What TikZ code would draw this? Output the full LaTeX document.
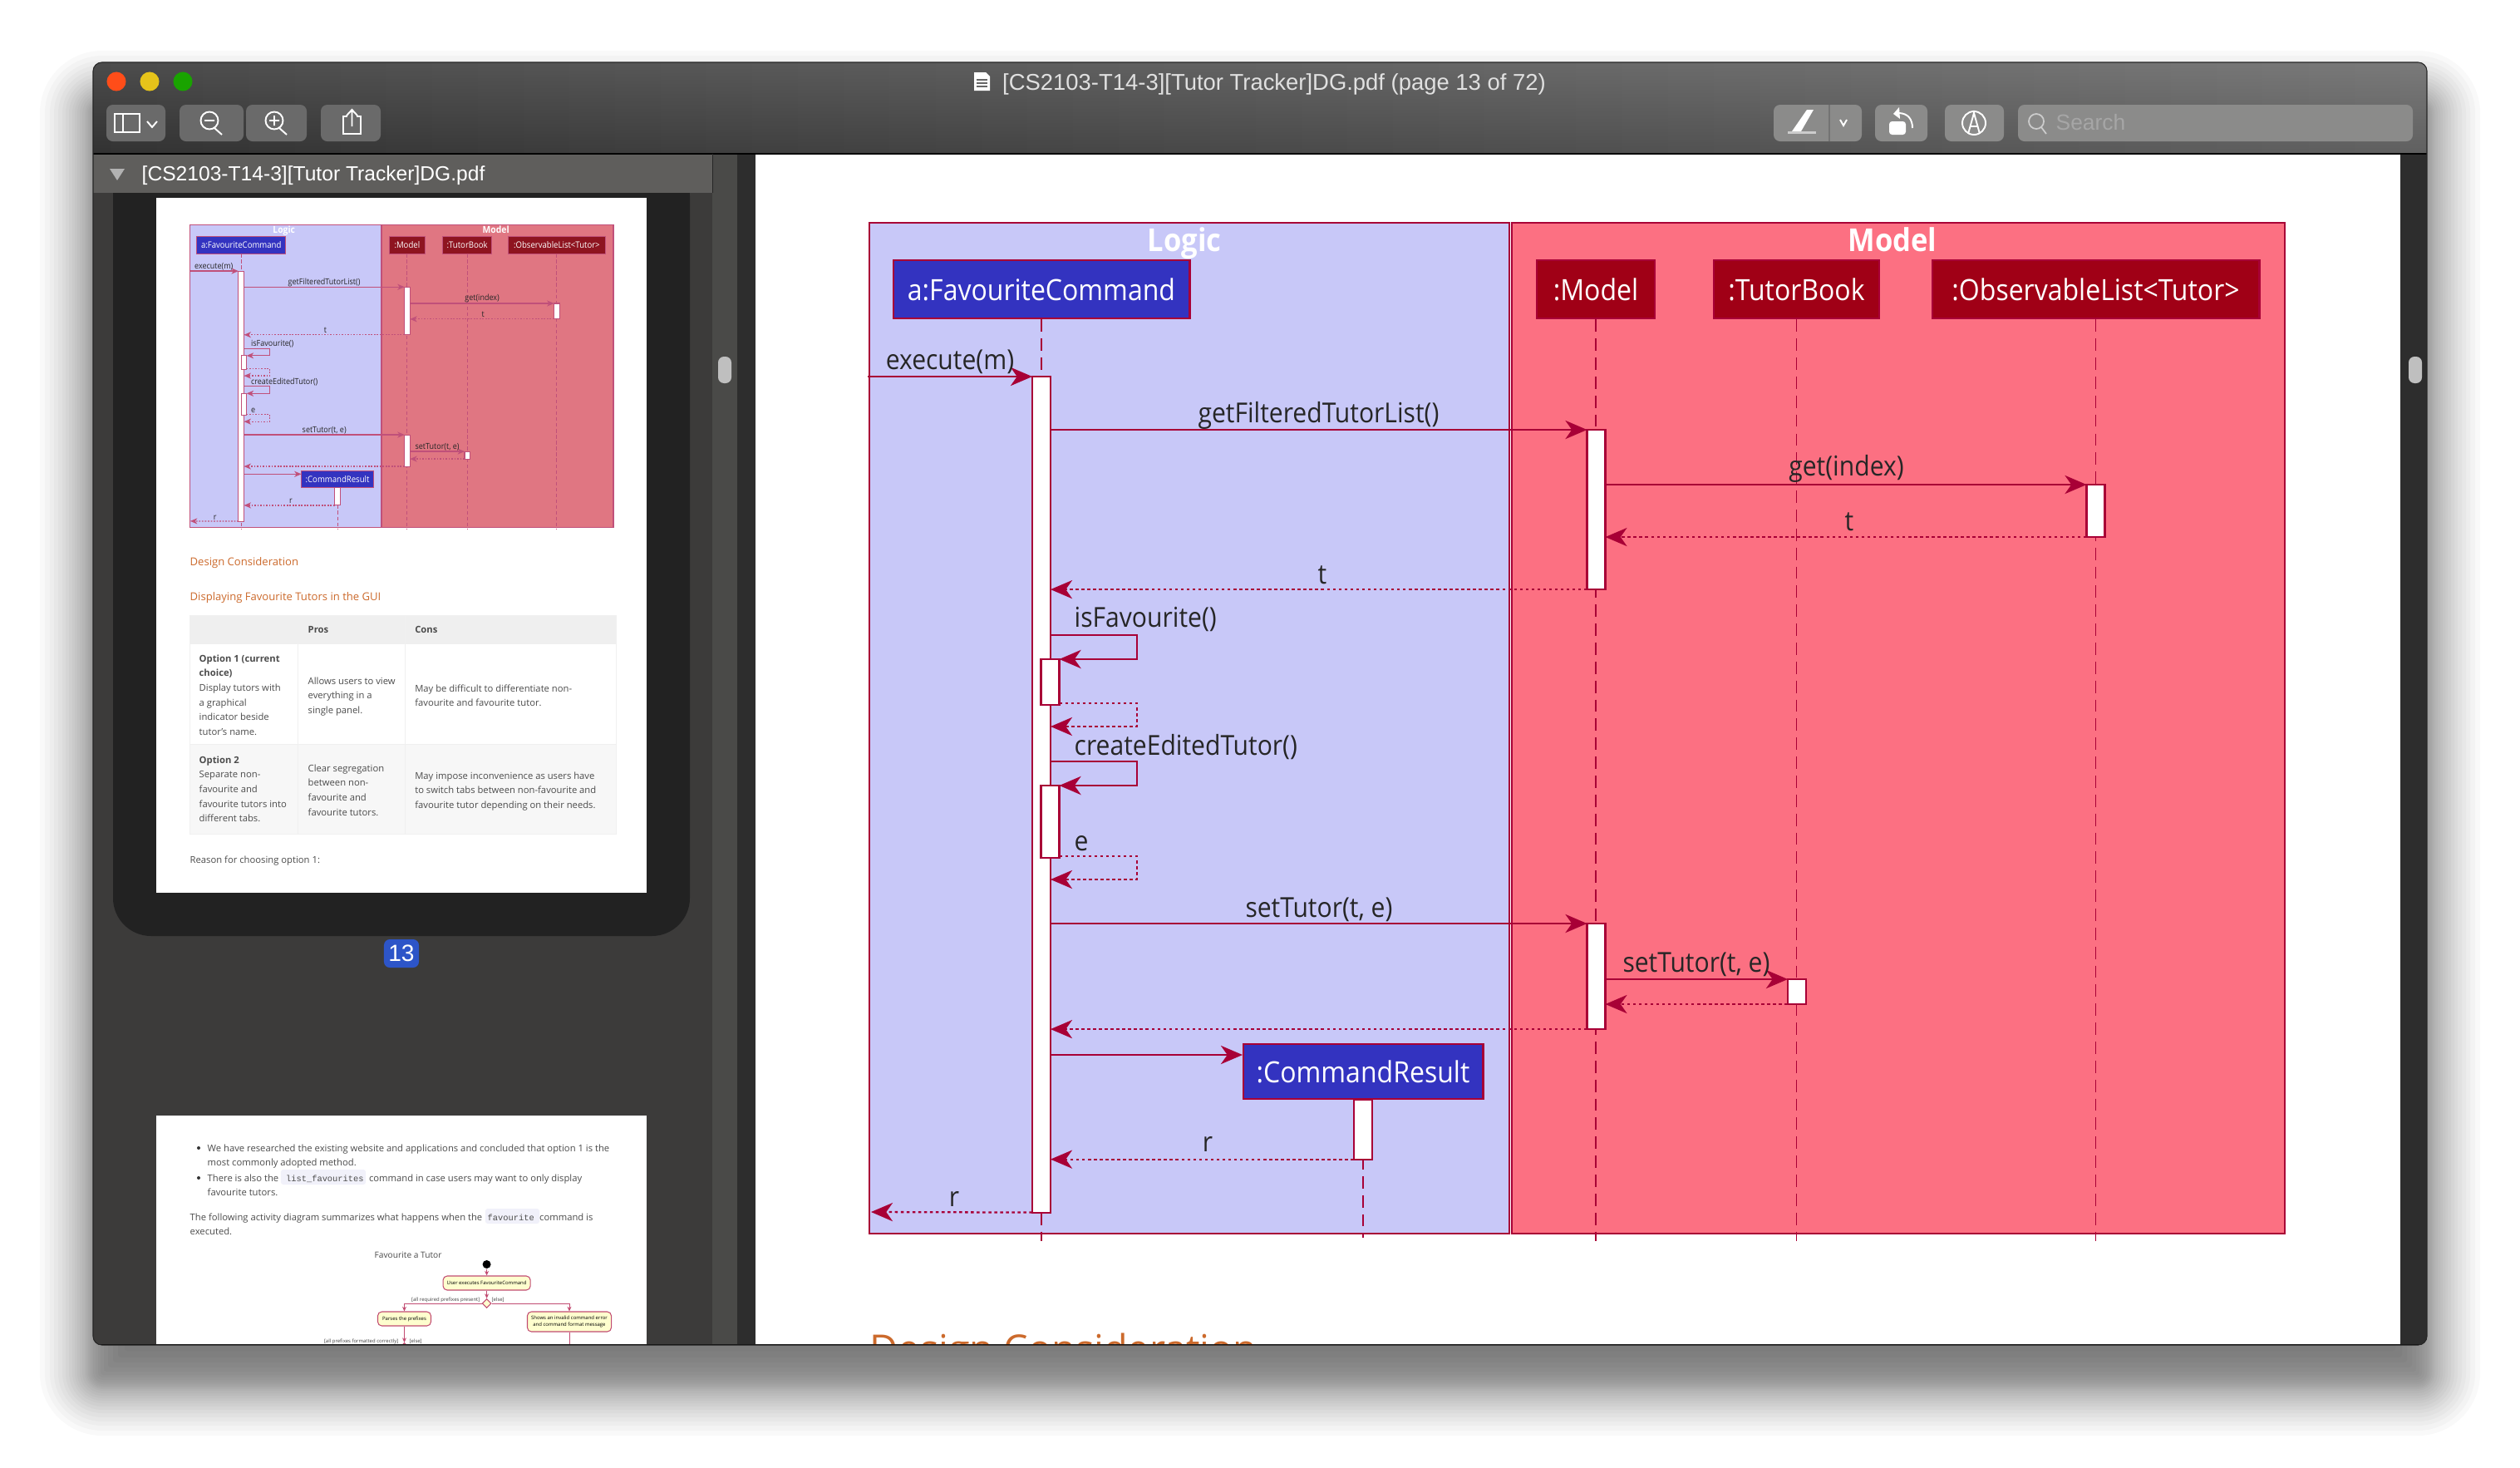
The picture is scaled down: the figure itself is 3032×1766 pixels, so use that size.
\documentclass[tikz,border=0pt]{standalone}
\usepackage{fontspec}
\setmainfont{Open Sans}
\setmonofont{Liberation Mono}
\newfontfamily\uifont{Liberation Sans}
\newfontfamily\seqfont[FakeStretch=.91]{Open Sans}
\usepackage{xcolor}
\usepackage{tikz}
\usetikzlibrary{arrows.meta,positioning,shapes.geometric}
\definecolor{seqline}{HTML}{A80036}
\definecolor{logicbg}{HTML}{C8C8F8}
\definecolor{modelbg}{HTML}{FC7082}
\definecolor{logicactor}{HTML}{3333C0}
\definecolor{modelactor}{HTML}{A00016}
\definecolor{thumbmodel}{HTML}{E07682}
\definecolor{thumbmodelactor}{HTML}{8E1420}
\definecolor{thumbline}{HTML}{C0507A}
\definecolor{uibtn}{HTML}{6A6A6A}
\definecolor{uibtnlight}{HTML}{8B8B8A}
\definecolor{sidebg}{HTML}{3C3B3A}
\definecolor{headbg}{HTML}{5F5E5C}
\definecolor{stripbg}{HTML}{4A4A48}
\definecolor{darkbg}{HTML}{2D2D2D}
\definecolor{selbg}{HTML}{222222}
\definecolor{badge}{HTML}{2D55C8}
\definecolor{docorange}{HTML}{CC6A2C}
\definecolor{thead}{HTML}{EFEFEF}
\definecolor{tstripe}{HTML}{F7F7F7}
\definecolor{chipbg}{HTML}{F1F1FA}
\definecolor{actfill}{HTML}{FEFECE}
\tikzset{
  logicpanel/.style={draw=seqline, line width=.6pt, fill=logicbg, inner sep=0pt},
  modelpanel/.style={logicpanel, fill=modelbg},
  paneltitle/.style={font=\seqfont\fontsize{10.8}{13}\selectfont\bfseries, text=white, inner sep=0pt, text height=8pt, text depth=0pt},
  actor/.style={draw=seqline, line width=.8pt, fill=logicactor, text=white, inner sep=0pt, font=\seqfont\fontsize{10}{12}\selectfont},
  modelbox/.style={actor, fill=modelactor},
  actbar/.style={draw=seqline, line width=.6pt, fill=white, minimum width=.22cm, inner sep=0pt, outer sep=0pt, anchor=north},
  lifeline/.style={draw=seqline, line width=.55pt, dash pattern=on 4.2pt off 2.3pt},
  call/.style={draw=seqline, line width=.8pt, -{Stealth[length=7.4pt,width=6.3pt,inset=2.2pt]}},
  ret/.style={call, line width=.65pt, dash pattern=on 1pt off 1pt},
  msglbl/.style={font=\seqfont\fontsize{9.4}{11}\selectfont, text=black!85, inner sep=0pt, text height=8.7pt, text depth=2pt},
  thumbview/.style={
    modelpanel/.style={logicpanel, fill=thumbmodel},
    logicpanel/.style={draw=thumbline, line width=.35pt, fill=logicbg, inner sep=0pt},
    modelbox/.style={actor, fill=thumbmodelactor},
    actor/.style={draw=thumbline, line width=.3pt, fill=logicactor, text=white, inner sep=0pt, font=\seqfont\fontsize{10}{12}\selectfont},
    actbar/.style={draw=thumbline, line width=.3pt, fill=white, minimum width=.22cm, inner sep=0pt, outer sep=0pt, anchor=north},
    lifeline/.style={draw=thumbline, line width=.3pt, dash pattern=on 1.2pt off .8pt},
    call/.style={draw=thumbline, line width=.35pt, -{Stealth[length=2.4pt,width=2pt,inset=.7pt]}},
    ret/.style={call, dash pattern=on .5pt off .5pt},
  },
  btn/.style={fill=uibtn, rounded corners=2.2pt},
  btnl/.style={fill=uibtnlight, rounded corners=2.2pt},
  icon/.style={draw=white, line width=.55pt},
  thumbtxt/.style={font=\fontsize{3.2}{5}\selectfont, text=black!70, align=left, anchor=north west, inner sep=0pt},
  thumbhead/.style={font=\fontsize{3.72}{5}\selectfont, text=docorange, anchor=west, inner sep=0pt},
  chip/.style={fill=chipbg, rounded corners=.8pt},
  actnode/.style={draw=seqline!70, line width=.3pt, fill=actfill, rounded corners=1.4pt, font=\fontsize{1.7}{2.4}\selectfont, align=center, inner sep=0pt},
  actarrow/.style={draw=seqline!70, line width=.25pt, -{Stealth[length=1.6pt,width=1.4pt]}},
  actlbl/.style={font=\fontsize{1.7}{2.4}\selectfont, text=black!75, inner sep=0pt},
  seqdiag/.pic={
    \node[logicpanel, minimum width=7.69cm, minimum height=12.16cm] (logicbox) at (1431,876) {};
    \node[modelpanel, minimum width=9.30cm, minimum height=12.16cm] (modelpanelbox) at (2284,876) {};
    \node[paneltitle] (logicttl) at (1425,288) {Logic};
    \node[paneltitle] (modelttl) at (2277,288) {Model};
    \node[actor, minimum width=3.56cm, minimum height=.70cm] (fav) at (1253,348) {a:FavouriteCommand};
    \node[modelbox, minimum width=1.42cm, minimum height=.70cm] (mod) at (1920,348) {:Model};
    \node[modelbox, minimum width=1.99cm, minimum height=.70cm] (book) at (2161.5,348) {:TutorBook};
    \node[modelbox, minimum width=3.93cm, minimum height=.70cm] (obs) at (2521.5,348) {:ObservableList<Tutor>};
    \coordinate (favend) at (1253,1493);
    \coordinate (modend) at (1920,1493);
    \coordinate (bookend) at (2161.5,1493);
    \coordinate (obsend) at (2521.5,1493);
    \coordinate (crend) at (1640,1489);
    \draw[lifeline] (fav.south) -- (favend);
    \draw[lifeline] (mod.south) -- (modend);
    \draw[lifeline] (book.south) -- (bookend);
    \draw[lifeline] (obs.south) -- (obsend);
    \node[actor, minimum width=2.88cm, minimum height=.66cm] (cr) at (1640,1289) {:CommandResult};
    \draw[lifeline] (cr.south) -- (crend);
    % activation bars
    \node[actbar, minimum height=10.05cm] (favbar) at (1253,453) {};
    \node[actbar, minimum height=1.92cm] (modbara) at (1920.5,517) {};
    \node[actbar, minimum height=.63cm] (obsbar) at (2521.5,583) {};
    \node[actbar, minimum height=.55cm] (selfa) at (1263.5,793) {};
    \node[actbar, minimum height=.87cm] (selfb) at (1263.5,945) {};
    \node[actbar, minimum height=1.27cm] (modbarb) at (1920.5,1111) {};
    \node[actbar, minimum height=.30cm] (bookbar) at (2162,1178) {};
    \node[actbar, minimum height=.72cm] (crbar) at (1640,1322.6) {};
    % free ends of the messages
    \coordinate (entry) at (1044,453);
    \coordinate (exit) at (1048,1458);
    \coordinate (crin) at (1495,1269);
    \coordinate (loopa) at (1368,764);
    \coordinate (loopb) at (1368,916);
    \coordinate (reta) at (1368,846);
    \coordinate (retaend) at (1264,874);
    \coordinate (retb) at (1368,1030);
    \coordinate (retbend) at (1264,1058);
    \draw[call] (entry) -- (favbar.north west);
    \draw[call] (favbar.east |- modbara.north) -- (modbara.north west);
    \draw[call] (modbara.east |- obsbar.north) -- (obsbar.north west);
    \draw[ret] (obsbar.south west) -- (modbara.east |- obsbar.south);
    \draw[ret] (modbara.south west) -- (favbar.east |- modbara.south);
    \draw[call] (favbar.east |- loopa) -- (loopa) |- (selfa.north east);
    \draw[ret] (selfa.east |- reta) -- (reta) |- (retaend);
    \draw[call] (favbar.east |- loopb) -- (loopb) |- (selfb.north east);
    \draw[ret] (selfb.east |- retb) -- (retb) |- (retbend);
    \draw[call] (favbar.east |- modbarb.north) -- (modbarb.north west);
    \draw[call] (modbarb.east |- bookbar.north) -- (bookbar.north west);
    \draw[ret] (bookbar.south west) -- (modbarb.east |- bookbar.south);
    \draw[ret] (modbarb.south west) -- (favbar.east |- modbarb.south);
    \draw[call] (favbar.east |- crin) -- (crin);
    \draw[ret] (crbar.south west) -- (favbar.east |- crbar.south);
    \draw[ret] (favbar.south west) -- (exit);
    % message labels
    \node[msglbl] (lblexec) at (1143,433) {execute(m)};
    \node[msglbl] (lblfilter) at (1586.5,497) {getFilteredTutorList()};
    \node[msglbl] (lblget) at (2221.5,561) {get(index)};
    \node[msglbl] (lblta) at (2225,627) {t};
    \node[msglbl] (lbltb) at (1591,691) {t};
    \node[msglbl, anchor=west] (lblfav) at (1292,743) {isFavourite()};
    \node[msglbl, anchor=west] (lblcreate) at (1292,897) {createEditedTutor()};
    \node[msglbl, anchor=west] (lble) at (1292,1012) {e};
    \node[msglbl] (lblseta) at (1587,1092) {setTutor(t, e)};
    \node[msglbl] (lblsetb) at (2041,1158) {setTutor(t, e)};
    \node[msglbl] (lblra) at (1453,1374) {r};
    \node[msglbl] (lblrb) at (1148,1440) {r};
  }
}

\begin{document}
\begin{tikzpicture}[x=.01cm, y=-.01cm]
  \useasboundingbox (0,0) rectangle (3032,1766);
  \fill[white] (0,0) rectangle (3032,1766);
  % window shadow
  \foreach \r in {64,58,52,47,42,37,33,29,25,22,19,16,13,10,8,6,4,2,0,-3,-6,-9,-13,-18,-24,-30,-38,-46}
    \fill[black, opacity=.024, rounded corners={max(\r+12,3)*.28pt}] ({112-\r},{125-\r}) rectangle ({2920+\r},{1663+\r});
  \begin{scope}
    \clip[rounded corners=3pt] (112,75) rectangle (2920,1618);
    \fill[sidebg] (112,185) rectangle (857,1618);
    \fill[stripbg] (857,185) rectangle (887,1618);
    \fill[darkbg] (887,185) rectangle (910,1618);
    \fill[white] (909,185) rectangle (2888,1618);
    \fill[darkbg] (2888,185) rectangle (2920,1618);
    \shade[left color=black!78, middle color=black!68, right color=black!58] (112,75) rectangle (2920,185);
    \shade[top color=white, bottom color=black, opacity=.10] (112,75) rectangle (2920,185);
    % sidebar
    \fill[selbg, rounded corners=13pt] (136,190) rectangle (830,1126);
    \fill[headbg] (112,185) rectangle (857,232);
    \fill[white] (188,238) rectangle (778,1074);
    \fill[white] (188,1342) rectangle (778,1640);
    % diagram on the small page
    \pic[thumbview, scale=.2993, transform shape] (thumb) at (-84.8,190.5) {seqdiag};
    % table of the small page
    \node[thumbhead] (thumbdesign) at (228,677) {Design Consideration};
    \node[thumbhead] (thumbdisplay) at (228,719) {Displaying Favourite Tutors in the GUI};
    \fill[thead] (228,740) rectangle (741,775);
    \fill[tstripe] (228,895) rectangle (741,1003);
    \draw[black!6, line width=.25pt] (228,740) rectangle (741,1003);
    \draw[black!6, line width=.25pt] (358,740) -- (358,1003);
    \draw[black!6, line width=.25pt] (487,740) -- (487,1003);
    \draw[black!6, line width=.25pt] (228,895) -- (741,895);
    \node[thumbtxt, font=\fontsize{3.2}{5}\selectfont\bfseries] (prostxt) at (370,753) {Pros};
    \node[thumbtxt, font=\fontsize{3.2}{5}\selectfont\bfseries] (constxt) at (498.6,753) {Cons};
    \node[thumbtxt] (optatxt) at (239,787) {\textbf{Option 1 (current}\\\textbf{choice)}\\Display tutors with\\a graphical\\indicator beside\\tutor's name.};
    \node[thumbtxt] (optapros) at (370,814) {Allows users to view\\everything in a\\single panel.};
    \node[thumbtxt] (optacons) at (498.6,823) {May be difficult to differentiate non-\\favourite and favourite tutor.};
    \node[thumbtxt] (optbtxt) at (239,909) {\textbf{Option 2}\\Separate non-\\favourite and\\favourite tutors into\\different tabs.};
    \node[thumbtxt] (optbpros) at (370,919) {Clear segregation\\between non-\\favourite and\\favourite tutors.};
    \node[thumbtxt] (optbcons) at (498.6,928) {May impose inconvenience as users have\\to switch tabs between non-favourite and\\favourite tutor depending on their needs.};
    \node[thumbtxt] (reasontxt) at (228,1029) {Reason for choosing option 1:};
    \node[fill=badge, rounded corners=2pt, minimum width=.42cm, minimum height=.34cm, inner sep=0pt, text=white, font=\uifont\fontsize{8}{9}\selectfont] (pagebadge) at (483,1147) {13};
    % next small page
    \node[chip, minimum width=1.02cm, minimum height=.18cm, inner sep=0pt] (chipa) at (389,1416) {};
    \node[chip, minimum width=.65cm, minimum height=.18cm, inner sep=0pt] (chipb) at (616.5,1463) {};
    \node[thumbtxt] (bulleta) at (249,1376) {We have researched the existing website and applications and concluded that option 1 is the\\most commonly adopted method.};
    \fill[black!80] (239,1381) circle (2);
    \node[thumbtxt] (bulletb) at (249,1412) {There is also the \hspace{1.7pt}\texttt{\fontsize{2.95}{5}\selectfont list\_favourites}\hspace{1pt} command in case users may want to only display\\favourite tutors.};
    \fill[black!80] (239,1417) circle (2);
    \node[thumbtxt] (followtxt) at (228,1459) {The following activity diagram summarizes what happens when the \hspace{1pt}\texttt{\fontsize{2.95}{5}\selectfont favourite}\hspace{1pt} command is\\executed.};
    \node[thumbtxt, font=\fontsize{2.9}{4}\selectfont] (acttitle) at (450,1505) {Favourite a Tutor};
    \node[circle, fill=black, minimum size=.10cm, inner sep=0pt] (actstart) at (585.6,1521) {};
    \node[actnode, minimum width=1.05cm, minimum height=.17cm] (actuser) at (585.6,1543.5) {User executes FavouriteCommand};
    \node[diamond, draw=seqline!70, line width=.3pt, fill=actfill, minimum size=.11cm, inner sep=0pt] (actdeca) at (585.6,1568) {};
    \node[actnode, minimum width=.64cm, minimum height=.17cm] (actparse) at (486.5,1586.5) {Parses the prefixes};
    \node[actnode, minimum width=1.01cm, minimum height=.24cm] (actshow) at (685,1590) {Shows an invalid command error\\and command format message};
    \node[diamond, draw=seqline!70, line width=.3pt, fill=actfill, minimum size=.11cm, inner sep=0pt] (actdecb) at (486.5,1621) {};
    \coordinate (actoff) at (685,1625);
    \coordinate (actoffb) at (577,1619);
    \draw[actarrow] (actstart) -- (actuser);
    \draw[actarrow] (actuser) -- (actdeca);
    \draw[actarrow] (actdeca) -| (actparse);
    \draw[actarrow] (actdeca) -| (actshow);
    \draw[actarrow] (actparse) -- (actdecb);
    \draw[draw=seqline!70, line width=.25pt] (actshow) -- (actoff);
    \draw[draw=seqline!70, line width=.25pt] (actdecb) -- (actoffb);
    \node[actlbl, anchor=east] (actlbla) at (578,1564) {[all required prefixes present]};
    \node[actlbl, anchor=west] (actlblb) at (591,1564) {[else]};
    \node[actlbl, anchor=east] (actlblc) at (480,1614) {[all prefixes formatted correctly]};
    \node[actlbl, anchor=west] (actlbld) at (492,1614) {[else]};
    % sidebar header
    \fill[black!30] (132,203) -- (150,203) -- (141,217) -- cycle;
    \node[font=\uifont\fontsize{7}{9}\selectfont, text=white, anchor=west, inner sep=0pt] (sidetitle) at (170,211) {[CS2103-T14-3][Tutor Tracker]DG.pdf};
    % scroll thumbs
    \fill[black!25, rounded corners=2pt] (864,429) rectangle (880,461);
    \fill[black!25, rounded corners=2pt] (2898,429) rectangle (2914,461);
    % main diagram
    \pic (seq) at (0,0) {seqdiag};
    \node[font=\fontsize{13.3}{16}\selectfont, text=docorange, anchor=base west, inner sep=0pt] (mainhead) at (1046,1639) {Design Consideration};
    % title bar
    \fill[black] (112,184) rectangle (2920,186);
    \fill[black] (112,1617) rectangle (2920,1619);
    \fill[black!85] (857,185) rectangle (858,232);
    \node[circle, fill=red!55!orange!90!white, minimum size=.23cm, inner sep=0pt] (btnred) at (140,98) {};
    \node[circle, fill=yellow!70!orange!90!black, minimum size=.23cm, inner sep=0pt] (btnyel) at (180,98) {};
    \node[circle, fill=green!60!black!90!yellow, minimum size=.23cm, inner sep=0pt] (btngrn) at (220,98) {};
    \node[font=\uifont\fontsize{7.8}{10}\selectfont, text=black!12, inner sep=0pt] (wintitle) at (1533,101) {[CS2103-T14-3][Tutor Tracker]DG.pdf (page 13 of 72)};
    \fill[white] (1172,87) -- (1186,87) -- (1191,92) -- (1191,109) -- (1172,109) -- cycle;
    \draw[black!60, line width=.3pt] (1175,96) -- (1188,96) (1175,100) -- (1188,100) (1175,104) -- (1188,104);
    % toolbar buttons
    \fill[btn] (128,126) rectangle (199,170);
    \fill[btn] (216,126) rectangle (293,170);
    \fill[btn] (296,126) rectangle (369,170);
    \fill[btn] (386,126) rectangle (458,170);
    \draw[icon] (138,137) rectangle (168,159) (148,137) -- (148,159);
    \draw[icon] (177,146) -- (183,153) -- (189,146);
    \draw[icon] (252,145) circle (10.5) (246,145) -- (258,145) (258,154) -- (267,162);
    \draw[icon] (330,145) circle (10.5) (324,145) -- (336,145) (330,139) -- (330,151) (336,154) -- (345,162);
    \draw[icon] (418,140) -- (413,140) -- (413,161) -- (434,161) -- (434,140) -- (429,140);
    \draw[icon] (423.5,152) -- (423.5,133) (417,139) -- (423.5,132) -- (430,139);
    \fill[btnl] (2134,126) rectangle (2240,170);
    \draw[black!55, line width=.3pt] (2201,126) -- (2201,170);
    \fill[btnl] (2256,126) rectangle (2319,170);
    \fill[btnl] (2340,126) rectangle (2411,170);
    \fill[btnl] (2428,126) rectangle (2903,170);
    \fill[white] (2174,132) -- (2182,132) -- (2167,158) -- (2156,158) -- cycle;
    \fill[black!20] (2151,158) rectangle (2185,161);
    \draw[icon] (2214,144) -- (2218,151) -- (2222,144);
    \fill[white, rounded corners=1pt] (2273,146) rectangle (2293,162);
    \draw[icon] (2284,136) .. controls (2296,136) and (2301,144) .. (2301,154);
    \fill[white] (2278,137) -- (2285,129) -- (2286,143) -- cycle;
    \draw[icon] (2375,148) circle (14);
    \draw[icon] (2368,161) -- (2375,136) -- (2382,161) (2370,152) -- (2380,152);
    \draw[draw=black!20, line width=.5pt] (2450,146) circle (9) (2456,153) -- (2462,161);
    \node[font=\uifont\fontsize{7.5}{9}\selectfont, text=black!35, anchor=west, inner sep=0pt] (searchtxt) at (2473,147) {Search};
  \end{scope}
  \draw[black!85, line width=.3pt, rounded corners=3pt] (112,75) rectangle (2920,1618);
\end{tikzpicture}
\end{document}
